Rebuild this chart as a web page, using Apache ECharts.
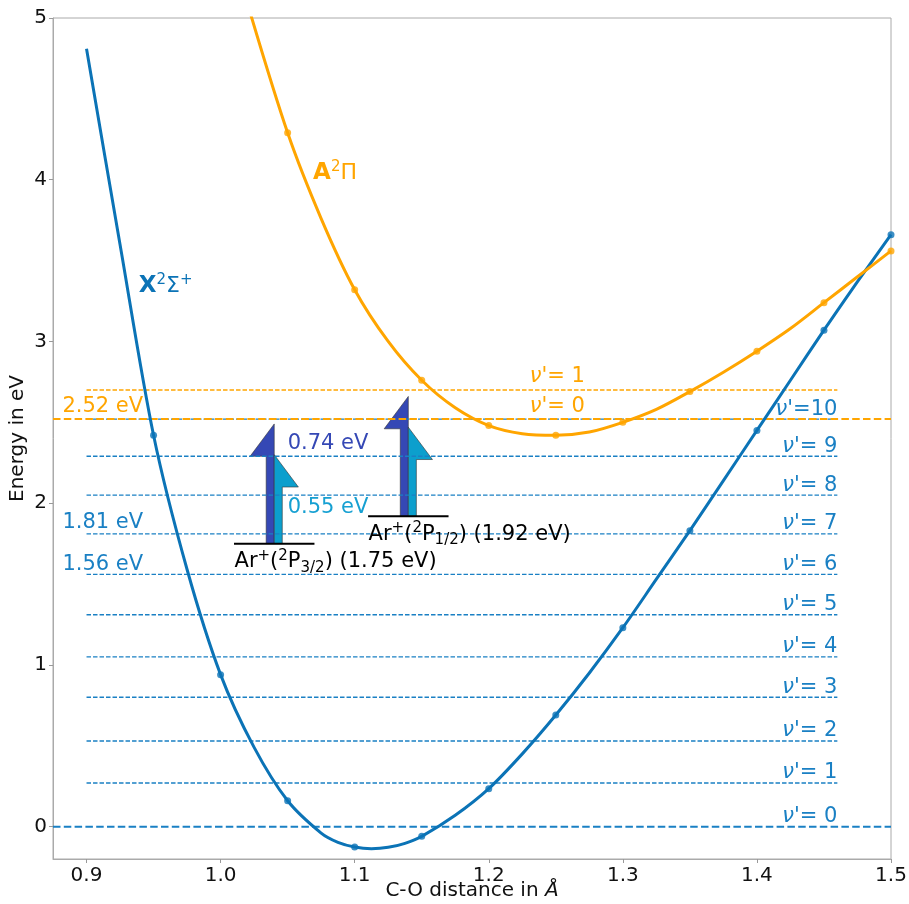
<!DOCTYPE html>
<html>
<head>
<meta charset="utf-8">
<script src="https://cdn.jsdelivr.net/npm/echarts@6/dist/echarts.min.js"></script>
<style>html,body{margin:0;padding:0;background:#fff}#c{width:909px;height:904px}</style>
</head>
<body>
<div id="c"></div>
<script>
// ---- data ----
const xTicks = [0.9, 1.0, 1.1, 1.2, 1.3, 1.4, 1.5];
const yTicks = [0, 1, 2, 3, 4, 5];

// X2Sigma+ potential curve
const xCurveR = [0.9, 0.925, 0.95, 0.975, 1.0, 1.025, 1.05, 1.075, 1.0875, 1.1, 1.1125, 1.125, 1.1375, 1.15, 1.175, 1.2, 1.225, 1.25, 1.275, 1.3, 1.325, 1.35, 1.375, 1.4, 1.425, 1.45, 1.475, 1.5];
const xCurveE = [4.81, 3.60, 2.42, 1.59, 0.94, 0.49, 0.16, -0.04, -0.097, -0.126, -0.136, -0.128, -0.103, -0.06, 0.07, 0.235, 0.45, 0.69, 0.95, 1.23, 1.53, 1.83, 2.14, 2.45, 2.76, 3.07, 3.37, 3.66];
const xPointR = [0.95, 1.0, 1.05, 1.1, 1.15, 1.2, 1.25, 1.3, 1.35, 1.4, 1.45, 1.5];
const xPointE = [2.42, 0.94, 0.16, -0.126, -0.06, 0.235, 0.69, 1.23, 1.83, 2.45, 3.07, 3.66];

// A2Pi potential curve
const aCurveR = [1.02, 1.05, 1.075, 1.1, 1.125, 1.15, 1.175, 1.2, 1.225, 1.25, 1.275, 1.3, 1.325, 1.35, 1.375, 1.4, 1.425, 1.45, 1.475, 1.5];
const aCurveE = [5.09, 4.29, 3.76, 3.32, 3.00, 2.76, 2.59, 2.48, 2.43, 2.42, 2.44, 2.50, 2.58, 2.69, 2.81, 2.94, 3.08, 3.24, 3.40, 3.56];
const aPointR = [1.05, 1.1, 1.15, 1.2, 1.25, 1.3, 1.35, 1.4, 1.45, 1.5];
const aPointE = [4.29, 3.32, 2.76, 2.48, 2.42, 2.50, 2.69, 2.94, 3.24, 3.56];

// vibrational levels (eV)
const xLevels = [0, 0.27, 0.53, 0.80, 1.05, 1.31, 1.56, 1.81, 2.05, 2.29, 2.52];
const aLevels = [2.52, 2.70];

// Ar+ levels and the two transition energies drawn as arrows
const ionLevels = [1.75, 1.92];
const ionNames = ['3/2', '1/2'];
const gaps = [0.74, 0.55];

// ---- styles ----
const FONT = 'DejaVu Sans';
const BLUE = '#0b73b6';
const BLUE_L = '#1a80c4';
const ORANGE = '#ffa500';
const DARK = '#3548b5';
const LIGHT = '#0c9fcd';

const chart = echarts.init(document.getElementById('c'), null, {renderer: 'canvas'});

const series = [];

// arrows (half arrows, dark on the left, light on the right)
const arrowX = [1.04, 1.14];
const SW = 0.006, HW = 0.018, HL = 0.2;
const arrowData = [];
ionLevels.forEach((b, i) => gaps.forEach((g, j) => arrowData.push([arrowX[i], b, b + g, j])));
series.push({
  type: 'custom', z: 2,
  encode: {x: 0, y: [1, 2]},
  data: arrowData,
  renderItem: (params, api) => {
    const xc = api.value(0), base = api.value(1), top = api.value(2), side = api.value(3);
    const pts = side === 0
      ? [[xc - SW, base], [xc, base], [xc, top], [xc - HW, top - HL], [xc - SW, top - HL]]
      : [[xc, base], [xc + SW, base], [xc + SW, top - HL], [xc + HW, top - HL], [xc, top]];
    return {type: 'polygon', shape: {points: pts.map(p => api.coord(p))},
      style: {fill: side === 0 ? DARK : LIGHT, stroke: '#333', lineWidth: 0.6}};
  }
});

// Ar+ base lines
ionLevels.forEach((b, i) => series.push({
  type: 'line', symbol: 'none', z: 3, silent: true,
  data: [[arrowX[i] - 0.03, b], [arrowX[i] + 0.03, b]],
  lineStyle: {color: '#000', width: 2}
}));

// thin dashed vibrational levels
xLevels.forEach((e, i) => { if (i > 0) series.push({
  type: 'line', symbol: 'none', z: 4, silent: true,
  data: [[0.9, e], [1.46, e]],
  lineStyle: {color: BLUE_L, width: 1.4, type: [4.5, 2]}
}); });
series.push({
  type: 'line', symbol: 'none', z: 4, silent: true,
  data: [[0.9, aLevels[1]], [1.46, aLevels[1]]],
  lineStyle: {color: ORANGE, width: 1.5, type: [4.5, 2]}
});
// thick dashed ground levels across the whole axis
series.push({
  type: 'line', symbol: 'none', z: 4, silent: true,
  data: [[0.875, xLevels[0]], [1.5, xLevels[0]]],
  lineStyle: {color: BLUE_L, width: 2, type: [7.5, 3.3]}
});
series.push({
  type: 'line', symbol: 'none', z: 4, silent: true,
  data: [[0.875, aLevels[0]], [1.5, aLevels[0]]],
  lineStyle: {color: ORANGE, width: 2, type: [7.5, 3.3]}
});

// potential curves
series.push({
  type: 'line', symbol: 'none', smooth: 0.3, z: 5, clip: true,
  data: xCurveR.map((r, i) => [r, xCurveE[i]]),
  lineStyle: {color: BLUE, width: 3}
});
series.push({
  type: 'line', symbol: 'none', smooth: 0.3, z: 5, clip: true,
  data: aCurveR.map((r, i) => [r, aCurveE[i]]),
  lineStyle: {color: ORANGE, width: 3}
});
series.push({
  type: 'scatter', symbolSize: 7, z: 6,
  data: xPointR.map((r, i) => [r, xPointE[i]]),
  itemStyle: {color: BLUE}
});
series.push({
  type: 'scatter', symbolSize: 7, z: 6,
  data: aPointR.map((r, i) => [r, aPointE[i]]),
  itemStyle: {color: ORANGE}
});

const axisFont = {fontSize: 20, fontFamily: FONT, color: '#111'};

chart.setOption({
  animation: false,
  grid: {left: 53, right: 18, top: 18, bottom: 45, show: true, borderColor: '#aaa', borderWidth: 1,
    containLabel: false, outerBoundsMode: 'none'},
  xAxis: {
    type: 'value', min: 0.875, max: 1.5,
    splitLine: {show: false},
    axisLine: {show: true, onZero: false, lineStyle: {color: '#aaa'}},
    axisTick: {show: true, customValues: xTicks, length: 4, lineStyle: {color: '#999'}},
    axisLabel: Object.assign({customValues: xTicks, formatter: v => v.toFixed(1), margin: 7}, axisFont),
    name: 'C-O distance in {i|Å}', nameLocation: 'middle', nameGap: 22, nameMoveOverlap: false,
    nameTextStyle: Object.assign({rich: {i: {fontStyle: 'italic', fontSize: 20, fontFamily: FONT, color: '#111'}}}, axisFont)
  },
  yAxis: {
    type: 'value', min: -0.2, max: 5,
    splitLine: {show: false},
    axisLine: {show: true, onZero: false, lineStyle: {color: '#aaa'}},
    axisTick: {show: true, customValues: yTicks, length: 4, lineStyle: {color: '#999'}},
    axisLabel: Object.assign({customValues: yTicks, formatter: v => String(v), margin: 6}, axisFont),
    name: 'Energy in eV', nameLocation: 'middle', nameGap: 25, nameRotate: 90, nameMoveOverlap: false,
    nameTextStyle: axisFont
  },
  series: series
});

// ---- text annotations (placed in data coordinates through the axes) ----
function rich(color) {
  const base = {fontFamily: FONT, fill: color};
  return {
    sup: Object.assign({fontSize: 15, lineHeight: 15, verticalAlign: 'top'}, base),
    sub: Object.assign({fontSize: 15, lineHeight: 15, verticalAlign: 'bottom'}, base),
    b: Object.assign({fontSize: 23, fontWeight: 'bold', lineHeight: 27}, base),
    nu: Object.assign({fontSize: 21, fontStyle: 'italic', lineHeight: 27}, base)
  };
}
function label(x, y, text, color, align, dy, size) {
  const p = chart.convertToPixel({gridIndex: 0}, [x, y]);
  return {
    type: 'text', x: p[0], y: p[1] + (dy || 0), z: 100, silent: true,
    style: {text: text, fill: color, fontSize: size || 21, fontFamily: FONT, lineHeight: 27,
      align: align, verticalAlign: 'middle', rich: rich(color)}
  };
}
const g = [];
xLevels.forEach((e, i) => {
  const t = i < 10 ? "{nu|ν}'= " + i : "{nu|ν}'=" + i;
  g.push(label(1.46, e, t, BLUE_L, 'right', -10));
});
aLevels.forEach((e, i) => g.push(label(1.2306, e, "{nu|ν}'= " + i, ORANGE, 'left', -13)));
g.push(label(0.882, aLevels[0], aLevels[0].toFixed(2) + ' eV', ORANGE, 'left', -13));
g.push(label(0.882, xLevels[7], xLevels[7].toFixed(2) + ' eV', BLUE_L, 'left', -11));
g.push(label(0.882, xLevels[6], xLevels[6].toFixed(2) + ' eV', BLUE_L, 'left', -10));
g.push(label(0.939, 3.34, '{b|X}{sup|2}Σ{sup|+}', BLUE, 'left', 0, 22));
g.push(label(1.069, 4.04, '{b|A}{sup|2}Π', ORANGE, 'left', 0, 22));
g.push(label(1.05, 2.37, gaps[0].toFixed(2) + ' eV', DARK, 'left', 0));
g.push(label(1.05, 1.97, gaps[1].toFixed(2) + ' eV', '#16a0d2', 'left', 0));
ionLevels.forEach((b, i) => {
  const t = 'Ar{sup|+}({sup|2}P{sub|' + ionNames[i] + '}) (' + b.toFixed(2) + ' eV)';
  g.push(label(arrowX[i] - 0.0296, b, t, '#000', 'left', 18));
});
chart.setOption({graphic: g});
</script>
</body>
</html>
